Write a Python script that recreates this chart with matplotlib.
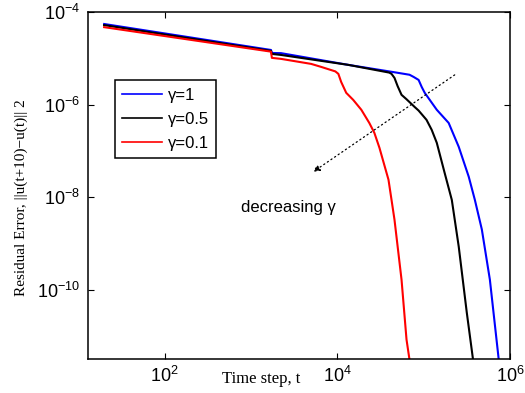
#!/usr/bin/env python
import numpy as np
import matplotlib
matplotlib.use("Agg")
import matplotlib.pyplot as plt
from matplotlib.ticker import FixedLocator, NullLocator

plt.rcParams['font.family'] = ['Liberation Sans', 'DejaVu Sans']
plt.rcParams['mathtext.fontset'] = 'custom'
plt.rcParams['mathtext.rm'] = 'Liberation Sans'
plt.rcParams['mathtext.it'] = 'Liberation Sans:italic'

# time steps and residuals
t_g1 = [20, 1710, 1750, 2230, 13400, 42500, 68700, 76600, 87500, 95000, 1.03e5,
        1.42e5, 1.95e5, 2.55e5, 3.33e5, 3.92e5, 4.72e5, 5.85e5, 7.6e5]
r_g1 = [5.5e-5, 1.51e-5, 1.30e-5, 1.29e-5, 7.2e-6, 5.1e-6, 4.4e-6, 3.95e-6, 3.4e-6, 2.4e-6, 1.79e-6,
        7.7e-7, 4.0e-7, 1.22e-7, 2.75e-8, 8.7e-9, 2.0e-9, 1.64e-10, 2e-12]

t_g05 = [20, 1710, 1750, 2230, 13400, 40000, 42500, 46000, 50000, 55500, 63400, 78500,
         87500, 1.08e5, 1.24e5, 1.42e5, 1.75e5, 2.12e5, 2.55e5, 3.16e5, 3.85e5]
r_g05 = [5.2e-5, 1.44e-5, 1.24e-5, 1.18e-5, 7.2e-6, 4.9e-6, 4.6e-6, 3.76e-6, 2.5e-6, 1.62e-6, 1.3e-6, 8.9e-7,
         7.4e-7, 4.67e-7, 2.84e-7, 1.49e-7, 3.35e-8, 8.7e-9, 8.5e-10, 3.2e-11, 2e-12]

t_g01 = [20, 1710, 1750, 2230, 4990, 6520, 9500, 10300, 11100, 12700, 15300,
         19000, 23500, 26900, 30800, 39200, 42500, 46000, 55500, 63400, 71000]
r_g01 = [4.7e-5, 1.39e-5, 1.02e-5, 9.7e-6, 7.55e-6, 6.5e-6, 5.2e-6, 4.6e-6, 3.08e-6, 1.79e-6, 1.26e-6,
         7.7e-7, 4.0e-7, 2.44e-7, 1.16e-7, 2.37e-8, 8.7e-9, 3.24e-9, 1.64e-10, 8.3e-12, 2e-12]

labels = ['\u03b3=1', '\u03b3=0.5', '\u03b3=0.1']
colors = ['#0000ff', '#000000', '#ff0000']

fig = plt.figure(figsize=(5.25, 3.93), dpi=100)
ax = fig.add_axes([0.1676, 0.0865, 0.8038, 0.883])

for t, r, c, lab in zip([t_g1, t_g05, t_g01], [r_g1, r_g05, r_g01], colors, labels):
    ax.plot(t, r, color=c, lw=1.5, label=lab)

ax.set_xscale('log')
ax.set_yscale('log')
ax.set_xlim(13, 1e6)
ax.set_ylim(10 ** -11.5, 1e-4)
ax.xaxis.set_major_locator(FixedLocator([1e2, 1e4, 1e6]))
ax.yaxis.set_major_locator(FixedLocator([1e-10, 1e-8, 1e-6, 1e-4]))
ax.xaxis.set_minor_locator(NullLocator())
ax.yaxis.set_minor_locator(NullLocator())
ax.tick_params(which='both', direction='in', top=True, right=True,
               length=4, width=0.8, labelsize=13)
ax.tick_params(axis='x', pad=5)
ax.tick_params(axis='y', pad=6)
for s in ax.spines.values():
    s.set_linewidth(1.1)

ax.set_xlabel('Time step, t', family=['Liberation Serif'], fontsize=12)
ax.xaxis.set_label_coords(0.41, -0.035)
ax.set_ylabel('Residual Error, ||u(t+10)\u2212u(t)|| 2', family=['Liberation Serif'], fontsize=11)
ax.yaxis.set_label_coords(-0.142, 0.464)

# direction arrow and note
ax.annotate('', xy=(5250, 3.5e-8), xytext=(2.29e5, 4.37e-6),
            arrowprops=dict(arrowstyle='-|>', linestyle=(0, (1, 2.5)), color='black',
                            lw=0.9, mutation_scale=10, shrinkA=0, shrinkB=0))
ax.text(766, 4.8e-9, 'decreasing \u03b3', fontsize=12, ha='left', va='baseline')

leg = ax.legend(loc='upper left', bbox_to_anchor=(0.064, 0.804), borderaxespad=0,
                fontsize=12, fancybox=False, framealpha=1, edgecolor='black',
                handlelength=2.4, handletextpad=0.3, labelspacing=0.55,
                borderpad=0.45)
leg.get_frame().set_linewidth(1.1)
for ln in leg.get_lines():
    ln.set_linewidth(1.2)

fig.savefig('out.png', dpi=100)
